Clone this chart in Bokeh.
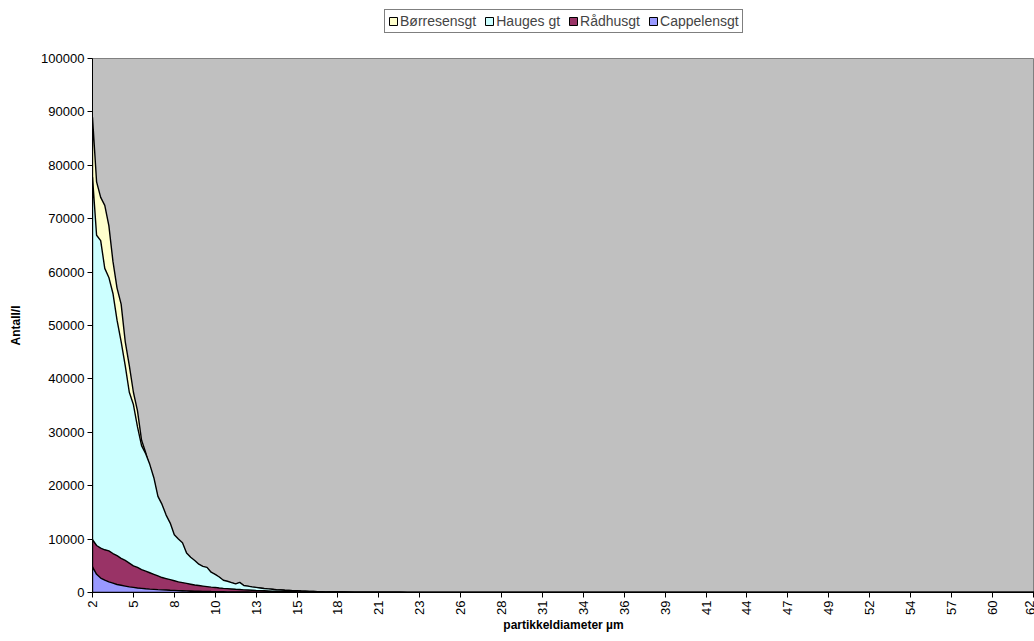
from bokeh.plotting import figure
from bokeh.layouts import column
from bokeh.models import Range1d, FixedTicker, Legend, LegendItem
from bokeh.embed import file_html
from bokeh.resources import INLINE

SERIES_NAMES = ["Børresensgt", "Hauges gt", "Rådhusgt", "Cappelensgt"]
COLORS = ["#FFFFCC", "#CCFFFF", "#993366", "#9999FF"]

TICK_LABELS = ["2", "5", "8", "10", "13", "15", "18", "21", "23", "26", "28", "31",
               "34", "36", "39", "41", "44", "47", "49", "52", "54", "57", "60", "62"]
Y_TICKS = [0, 10000, 20000, 30000, 40000, 50000, 60000, 70000, 80000, 90000, 100000]

BORRESENSGT = [
    89000, 76900, 74000, 72500, 68700, 62000, 57000, 54000, 47000, 42500,
    37500, 34000, 28500, 26200, 23500, 21000, 17500, 16000, 14000, 12600,
    10500, 9700, 9000, 7200, 6400, 5800, 5100, 4700, 4500, 3700,
    3300, 2800, 2200, 2000, 1800, 1550, 1800, 1250, 1150, 1000,
    900, 800, 700, 640, 570, 500, 460, 410, 380, 340,
    310, 270, 240, 210, 180, 150, 130, 110, 95, 90,
    85, 80, 75, 70, 66, 62, 58, 55, 52, 49,
    46, 43, 40, 38, 36, 34, 32, 30, 28, 26,
    25, 24, 22, 21, 20, 19, 18, 17, 16, 15,
    14, 13, 12, 12, 11, 10, 10, 9, 9, 8,
    8, 7, 7, 6, 6, 5, 5, 5, 4, 4,
    4, 3, 3, 3, 3, 2, 2, 2, 2, 2,
    1, 1, 1, 1, 1, 1, 1, 1, 0, 0,
    0, 0, 0, 0, 0, 0, 0, 0, 0, 0,
    0, 0, 0, 0, 0, 0, 0, 0, 0, 0,
    0, 0, 0, 0, 0, 0, 0, 0, 0, 0,
    0, 0, 0, 0, 0, 0, 0, 0, 0, 0,
    0, 0, 0, 0, 0, 0, 0, 0, 0, 0,
    0, 0, 0, 0, 0, 0, 0, 0, 0, 0,
    0, 0, 0, 0, 0, 0, 0, 0, 0, 0,
    0, 0, 0, 0, 0, 0, 0, 0, 0, 0,
    0, 0, 0, 0, 0, 0, 0, 0, 0, 0,
    0, 0, 0, 0, 0, 0, 0, 0, 0, 0,
    0, 0,
]

HAUGES_GT = [
    77800, 66900, 65900, 60700, 59000, 56000, 51000, 47000, 42500, 37500,
    35200, 31000, 27500, 26000, 24000, 21500, 18000, 16500, 14500, 13000,
    10800, 10000, 9300, 7400, 6600, 6000, 5300, 4900, 4700, 3800,
    3400, 2900, 2300, 2100, 1850, 1600, 1900, 1300, 1200, 1050,
    950, 850, 750, 680, 600, 520, 480, 430, 400, 360,
    330, 280, 250, 220, 190, 160, 140, 120, 100, 95,
    90, 85, 80, 75, 70, 66, 62, 58, 55, 52,
    49, 46, 43, 40, 38, 36, 34, 32, 30, 28,
    26, 25, 24, 22, 21, 20, 19, 18, 17, 16,
    15, 14, 13, 12, 12, 11, 10, 10, 9, 9,
    8, 8, 7, 7, 6, 6, 5, 5, 5, 4,
    4, 4, 3, 3, 3, 3, 2, 2, 2, 2,
    2, 1, 1, 1, 1, 1, 1, 1, 1, 0,
    0, 0, 0, 0, 0, 0, 0, 0, 0, 0,
    0, 0, 0, 0, 0, 0, 0, 0, 0, 0,
    0, 0, 0, 0, 0, 0, 0, 0, 0, 0,
    0, 0, 0, 0, 0, 0, 0, 0, 0, 0,
    0, 0, 0, 0, 0, 0, 0, 0, 0, 0,
    0, 0, 0, 0, 0, 0, 0, 0, 0, 0,
    0, 0, 0, 0, 0, 0, 0, 0, 0, 0,
    0, 0, 0, 0, 0, 0, 0, 0, 0, 0,
    0, 0, 0, 0, 0, 0, 0, 0, 0, 0,
    0, 0, 0, 0, 0, 0, 0, 0, 0, 0,
    0, 0,
]

RADHUSGT = [
    9900, 8800, 8300, 8000, 7800, 7300, 6900, 6400, 6000, 5500,
    5000, 4700, 4300, 4000, 3700, 3400, 3100, 2800, 2600, 2400,
    2200, 2000, 1850, 1700, 1550, 1400, 1300, 1200, 1100, 1000,
    950, 850, 780, 720, 660, 600, 550, 500, 460, 420,
    380, 350, 320, 290, 260, 240, 220, 200, 180, 160,
    140, 125, 110, 100, 90, 80, 72, 65, 58, 52,
    47, 42, 38, 34, 31, 28, 25, 23, 21, 19,
    17, 15, 14, 13, 12, 11, 10, 9, 8, 7,
    7, 6, 6, 5, 5, 4, 4, 4, 3, 3,
    3, 2, 2, 2, 2, 1, 1, 1, 1, 1,
    0, 0, 0, 0, 0, 0, 0, 0, 0, 0,
    0, 0, 0, 0, 0, 0, 0, 0, 0, 0,
    0, 0, 0, 0, 0, 0, 0, 0, 0, 0,
    0, 0, 0, 0, 0, 0, 0, 0, 0, 0,
    0, 0, 0, 0, 0, 0, 0, 0, 0, 0,
    0, 0, 0, 0, 0, 0, 0, 0, 0, 0,
    0, 0, 0, 0, 0, 0, 0, 0, 0, 0,
    0, 0, 0, 0, 0, 0, 0, 0, 0, 0,
    0, 0, 0, 0, 0, 0, 0, 0, 0, 0,
    0, 0, 0, 0, 0, 0, 0, 0, 0, 0,
    0, 0, 0, 0, 0, 0, 0, 0, 0, 0,
    0, 0, 0, 0, 0, 0, 0, 0, 0, 0,
    0, 0, 0, 0, 0, 0, 0, 0, 0, 0,
    0, 0,
]

CAPPELENSGT = [
    4800, 3400, 2700, 2300, 2000, 1750, 1500, 1350, 1200, 1050,
    950, 850, 780, 700, 640, 590, 540, 500, 460, 420,
    390, 360, 330, 300, 280, 260, 240, 220, 200, 180,
    165, 150, 138, 126, 115, 105, 96, 88, 80, 73,
    66, 60, 55, 50, 45, 41, 37, 34, 31, 28,
    25, 23, 21, 19, 17, 15, 14, 13, 12, 11,
    10, 9, 8, 7, 7, 6, 6, 5, 5, 4,
    4, 4, 3, 3, 3, 2, 2, 2, 2, 1,
    1, 1, 1, 1, 1, 0, 0, 0, 0, 0,
    0, 0, 0, 0, 0, 0, 0, 0, 0, 0,
    0, 0, 0, 0, 0, 0, 0, 0, 0, 0,
    0, 0, 0, 0, 0, 0, 0, 0, 0, 0,
    0, 0, 0, 0, 0, 0, 0, 0, 0, 0,
    0, 0, 0, 0, 0, 0, 0, 0, 0, 0,
    0, 0, 0, 0, 0, 0, 0, 0, 0, 0,
    0, 0, 0, 0, 0, 0, 0, 0, 0, 0,
    0, 0, 0, 0, 0, 0, 0, 0, 0, 0,
    0, 0, 0, 0, 0, 0, 0, 0, 0, 0,
    0, 0, 0, 0, 0, 0, 0, 0, 0, 0,
    0, 0, 0, 0, 0, 0, 0, 0, 0, 0,
    0, 0, 0, 0, 0, 0, 0, 0, 0, 0,
    0, 0, 0, 0, 0, 0, 0, 0, 0, 0,
    0, 0, 0, 0, 0, 0, 0, 0, 0, 0,
    0, 0,
]

SERIES = [BORRESENSGT, HAUGES_GT, RADHUSGT, CAPPELENSGT]
LABEL_STEP = 10  # one tick label per ten size classes

FONT = "Liberation Sans"
TOP_H = 46
PLOT_TOP = 12

# ---- legend strip (a figure of its own above the chart) ----
lg = figure(width=1034, height=TOP_H, output_backend="svg", toolbar_location=None,
            x_range=Range1d(0, 1), y_range=Range1d(-2, -1),
            min_border_left=0, min_border_right=0, min_border_top=0, min_border_bottom=0)
lg.axis.visible = False
lg.grid.visible = False
lg.outline_line_color = None
lg.background_fill_color = "white"
lg.border_fill_color = "white"

# ---- main chart ----
p = figure(width=1034, height=641 - TOP_H, output_backend="svg", toolbar_location=None,
           x_range=Range1d(0, 230.3), y_range=Range1d(0, 100000),
           min_border_left=92, min_border_right=0, min_border_top=PLOT_TOP,
           min_border_bottom=49)
p.background_fill_color = "#C0C0C0"
p.border_fill_color = "white"
p.outline_line_color = "#808080"
p.xgrid.visible = False
p.ygrid.visible = False

items = []
for name, color, vals in zip(SERIES_NAMES, COLORS, SERIES):
    n = len(vals)
    xs = list(range(n)) + [n - 1, 0]
    ys = list(vals) + [0, 0]
    p.patch(xs, ys, fill_color=color, line_color="black", line_width=1.4)
    # same series drawn in the legend strip, outside its visible range,
    # so that the legend gets a filled, outlined swatch
    proxy = lg.patch(xs, ys, fill_color=color, line_color="black", line_width=1)
    items.append(LegendItem(label=name, renderers=[proxy]))

legend = Legend(items=items, orientation="horizontal", location=(292, TOP_H - 33))
legend.label_text_font = FONT
legend.label_text_font_size = "14px"
legend.glyph_width = 10
legend.glyph_height = 10
legend.spacing = 8
legend.padding = 3
legend.margin = 0
legend.label_standoff = 2
legend.label_height = 13
legend.border_line_color = "black"
legend.border_line_width = 1
legend.background_fill_color = "white"
legend.background_fill_alpha = 1
lg.add_layout(legend, "center")

n_labels = len(TICK_LABELS)
x_ticks = [i * LABEL_STEP for i in range(n_labels)]
p.xaxis.ticker = FixedTicker(ticks=x_ticks)
p.xaxis.major_label_overrides = {t: lab for t, lab in zip(x_ticks, TICK_LABELS)}
p.xaxis.major_label_orientation = 1.5708
p.xaxis.axis_label = "partikkeldiameter µm"

p.yaxis.ticker = FixedTicker(ticks=Y_TICKS)
p.yaxis.major_label_overrides = {t: str(t) for t in Y_TICKS}
p.yaxis.axis_label = "Antall/l"

for ax in (p.xaxis[0], p.yaxis[0]):
    ax.axis_line_color = "black"
    ax.axis_line_width = 1
    ax.major_tick_line_color = "black"
    ax.major_tick_in = 0
    ax.major_tick_out = 5
    ax.minor_tick_line_color = None
    ax.major_label_text_font = FONT
    ax.major_label_text_font_size = "13px"
    ax.major_label_text_color = "black"
    ax.axis_label_text_font = FONT
    ax.axis_label_text_font_size = "12px"
    ax.axis_label_text_font_style = "bold"
    ax.axis_label_text_color = "black"
    ax.major_label_standoff = 3

p.xaxis.axis_label_standoff = 0
p.yaxis.axis_label_standoff = 15

layout = column(lg, p, spacing=0)
open("out.html", "w").write(file_html(layout, INLINE))
